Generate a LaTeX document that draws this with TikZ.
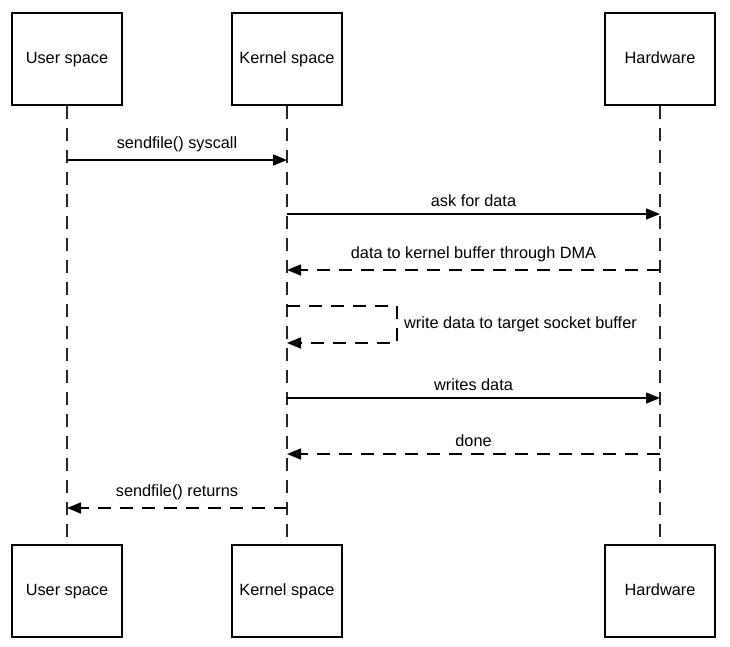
\documentclass[tikz,border=0pt]{standalone}
\usepackage{fontspec}
\setmainfont{Liberation Sans}
\usetikzlibrary{arrows.meta}
\begin{document}
\begin{tikzpicture}[x=1pt,y=-1pt,
  actor/.style={draw, line width=1.5pt, minimum width=110pt, minimum height=92pt, inner sep=0pt, text height=11pt, text depth=3pt, font=\fontsize{16.3}{19}\selectfont},
  lifeline/.style={line width=1.5pt, dash pattern=on 13pt off 9pt, draw=black!85},
  msg/.style={line width=1.5pt, -{Triangle[length=14pt,width=11pt]}},
  ret/.style={msg, dash pattern=on 13pt off 9pt},
  lbl/.style={font=\fontsize{16.3}{19}\selectfont, inner sep=1pt}]
\useasboundingbox (0,0) rectangle (730,646);
\fill[white] (0,0) rectangle (730,646);
% actors
\node[actor] (ut) at (67,59) {User space};
\node[actor] (kt) at (287,59) {Kernel space};
\node[actor] (ht) at (660,59) {Hardware};
\node[actor] (ub) at (67,591) {User space};
\node[actor] (kb) at (287,591) {Kernel space};
\node[actor] (hb) at (660,591) {Hardware};
% lifelines
\draw[lifeline] (ut.south) -- (ub.north);
\draw[lifeline] (kt.south) -- (kb.north);
\draw[lifeline] (ht.south) -- (hb.north);
% message points
\coordinate (u1) at (67,160); \coordinate (k1) at (287,160);
\coordinate (k2) at (287,214); \coordinate (h2) at (660,214);
\coordinate (h3) at (660,270); \coordinate (k3) at (287,270);
\coordinate (k4a) at (287,306); \coordinate (s1) at (397,306); \coordinate (s2) at (397,343); \coordinate (k4b) at (287,343);
\coordinate (k5) at (287,398); \coordinate (h5) at (660,398);
\coordinate (h6) at (660,454); \coordinate (k6) at (287,454);
\coordinate (k7) at (287,508); \coordinate (u7) at (67,508);
% messages
\draw[msg] (u1) -- node[lbl, above=6pt] {sendfile() syscall} (k1);
\draw[msg] (k2) -- node[lbl, above=6pt] {ask for data} (h2);
\draw[ret] (h3) -- node[lbl, above=6pt] {data to kernel buffer through DMA} (k3);
\draw[ret] (k4a) -- (s1) -- (s2) -- (k4b);
\node[lbl, anchor=west] (selflbl) at (403,324) {write data to target socket buffer};
\draw[msg] (k5) -- node[lbl, above=6pt] {writes data} (h5);
\draw[ret] (h6) -- node[lbl, above=6pt] {done} (k6);
\draw[ret] (k7) -- node[lbl, above=6pt] {sendfile() returns} (u7);
\end{tikzpicture}
\end{document}
